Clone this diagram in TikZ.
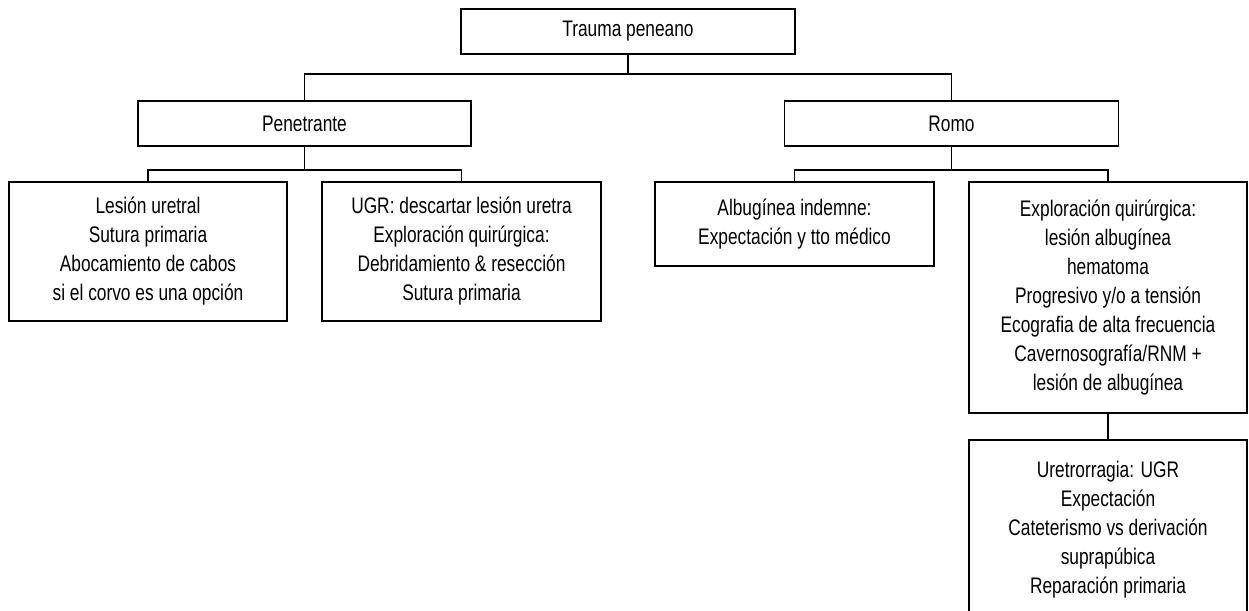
\documentclass[tikz,border=0pt]{standalone}
\usepackage{fontspec}
\setmainfont{Liberation Sans}[FakeStretch=0.77]
\usepackage{tikz}
\usetikzlibrary{calc}

\begin{document}
\begin{tikzpicture}[x=1pt,y=-1pt,
  box/.style={draw, line width=1.3pt, align=center, inner sep=0pt,
    font=\fontsize{22.5}{29}\selectfont},
  link/.style={line width=1.3pt}]
  \useasboundingbox (0,0) rectangle (1249,610);
  \begin{scope}
  \clip (0,0) rectangle (1249,610);

  \node[box, minimum width=334pt, minimum height=45pt] (trauma) at (628,31.5) {Trauma peneano};
  \node[box, minimum width=333pt, minimum height=45pt] (pen) at (304.5,123.5) {Penetrante};
  \node[box, minimum width=334pt, minimum height=45pt] (romo) at (951.5,123.5) {Romo};

  \node[box, minimum width=278pt, minimum height=139pt] (uretral) at (148,251.5)
    {Lesión uretral\\Sutura primaria\\Abocamiento de cabos\\si el corvo es una opción};
  \node[box, minimum width=279pt, minimum height=139pt] (ugr) at (461.5,251.5)
    {UGR: descartar lesión uretra\\Exploración quirúrgica:\\Debridamiento \& resección\\Sutura primaria};
  \node[box, minimum width=279pt, minimum height=84pt] (indemne) at (794.5,224)
    {Albugínea indemne:\\Expectación y tto médico};
  \node[box, minimum width=278pt, minimum height=231pt] (explora) at (1108,297.5)
    {Exploración quirúrgica:\\lesión albugínea\\hematoma\\Progresivo y/o a tensión\\Ecografia de alta frecuencia\\Cavernosografía/RNM +\\lesión de albugínea};
  \node[box, minimum width=278pt, minimum height=180pt] (uretro) at (1108,530)
    {Uretrorragia: UGR\\Expectación\\Cateterismo vs derivación\\suprapúbica\\Reparación primaria};

  % junction points
  \coordinate (j1) at (628,74);
  \coordinate (j2) at (304.5,170);
  \coordinate (j3) at (951.5,170);

  % trauma to penetrante and romo
  \draw[link] (trauma.south) -- (j1);
  \draw[link] (pen.north) |- (j1) -| (romo.north);
  % penetrante to its two cases
  \draw[link] (pen.south) -- (j2);
  \draw[link] (uretral.north) |- (j2) -| (ugr.north);
  % romo to its two cases
  \draw[link] (romo.south) -- (j3);
  \draw[link] (indemne.north) |- (j3) -| (explora.north);
  % exploracion to uretrorragia
  \draw[link] (explora.south) -- (uretro.north);
  \end{scope}
\end{tikzpicture}
\end{document}
